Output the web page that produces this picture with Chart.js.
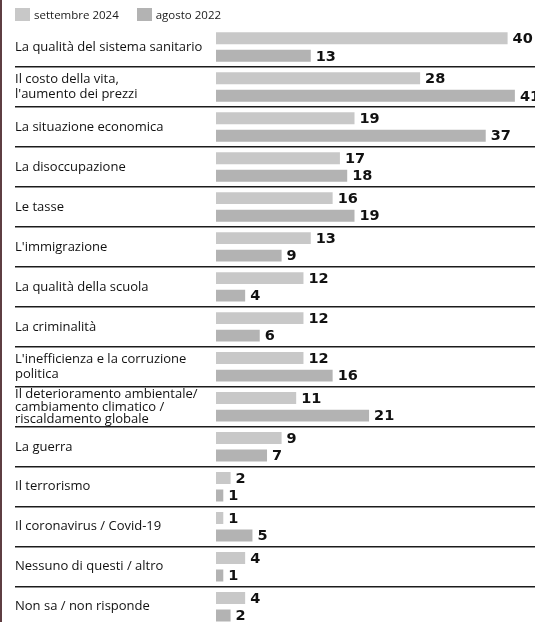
<!DOCTYPE html>
<html lang="it">
<head>
<meta charset="utf-8">
<script src="https://cdn.jsdelivr.net/npm/chart.js@4"></script>
<style>
    html, body { margin: 0; padding: 0; background: #fff; }
    body { width: 535px; height: 622px; overflow: hidden; position: relative; }
    #edge { position: absolute; left: 0; top: 0; width: 2px; height: 622px; background: #5e3d42; z-index: 2; }
    #legend { position: absolute; top: 8px; left: 15px; display: flex; font: 11.5px "Open Sans", sans-serif; color: #1a1a1a; z-index: 2; }
    #legend .item { display: flex; align-items: center; margin-right: 18px; height: 13px; }
    #legend .box { width: 15px; height: 13px; margin-right: 4px; }
    #chartWrap { position: absolute; left: 0; top: 0; width: 535px; height: 637px; }
</style>
</head>
<body>
<div id="edge"></div>
<div id="legend"></div>
<div id="chartWrap"><canvas id="problemsChart"></canvas></div>
<script>
const categories = [
    'La qualità del sistema sanitario',
    ['Il costo della vita,', "l'aumento dei prezzi"],
    'La situazione economica',
    'La disoccupazione',
    'Le tasse',
    "L'immigrazione",
    'La qualità della scuola',
    'La criminalità',
    ["L'inefficienza e la corruzione", 'politica'],
    ['Il deterioramento ambientale/', 'cambiamento climatico /', 'riscaldamento globale'],
    'La guerra',
    'Il terrorismo',
    'Il coronavirus / Covid-19',
    'Nessuno di questi / altro',
    'Non sa / non risponde'
];
const seriesNames = ['settembre 2024', 'agosto 2022'];
const sept2024 = [40, 28, 19, 17, 16, 13, 12, 12, 12, 11, 9, 2, 1, 4, 4];
const aug2022 = [13, 41, 37, 18, 19, 9, 4, 6, 16, 21, 7, 1, 5, 1, 2];

// numbers printed at the end of each bar
const valueLabels = {
    id: 'valueLabels',
    afterDatasetsDraw(chart) {
        const ctx = chart.ctx;
        ctx.save();
        ctx.font = 'bold 14.5px "DejaVu Sans", sans-serif';
        ctx.fillStyle = '#111';
        ctx.textBaseline = 'middle';
        chart.data.datasets.forEach((ds, i) => {
            chart.getDatasetMeta(i).data.forEach((bar, j) => {
                ctx.fillText(ds.data[j], bar.x + 5, bar.y + 1);
            });
        });
        ctx.restore();
    }
};

// HTML legend built from the chart's own legend items
const htmlLegend = {
    id: 'htmlLegend',
    afterUpdate(chart) {
        const box = document.getElementById('legend');
        box.innerHTML = '';
        chart.options.plugins.legend.labels.generateLabels(chart).forEach(item => {
            const el = document.createElement('div');
            el.className = 'item';
            const sw = document.createElement('span');
            sw.className = 'box';
            sw.style.background = item.fillStyle;
            const txt = document.createElement('span');
            txt.textContent = item.text;
            el.appendChild(sw);
            el.appendChild(txt);
            box.appendChild(el);
        });
    }
};

const ctx = document.getElementById('problemsChart').getContext('2d');
new Chart(ctx, {
    type: 'bar',
    data: {
        labels: categories,
        datasets: [
            { label: seriesNames[0], data: sept2024, backgroundColor: '#c8c8c8' },
            { label: seriesNames[1], data: aug2022, backgroundColor: '#b3b3b3' }
        ]
    },
    options: {
        indexAxis: 'y',
        responsive: true,
        maintainAspectRatio: false,
        animation: false,
        layout: { padding: { left: 15, top: 27, right: 0, bottom: 0 } },
        datasets: {
            bar: { borderWidth: 0, categoryPercentage: 0.877, barPercentage: 0.68 }
        },
        scales: {
            x: { display: false, min: 0, max: 43.76 },
            y: {
                afterFit: (scale) => { scale.width = 201; },
                border: { display: false },
                grid: {
                    offset: true,
                    drawTicks: true,
                    tickLength: 201,
                    lineWidth: 1.6,
                    color: (c) => c.index === 0 ? 'rgba(0,0,0,0)' : '#1c1c1c'
                },
                ticks: {
                    autoSkip: false,
                    crossAlign: 'far',
                    color: '#111',
                    font: (c) => ({
                        family: '"Open Sans", sans-serif',
                        size: 13,
                        lineHeight: c.index === 9 ? 0.95 : 1.12
                    })
                }
            }
        },
        plugins: {
            legend: { display: false },
            tooltip: { enabled: false }
        }
    },
    plugins: [valueLabels, htmlLegend]
});
</script>
</body>
</html>
